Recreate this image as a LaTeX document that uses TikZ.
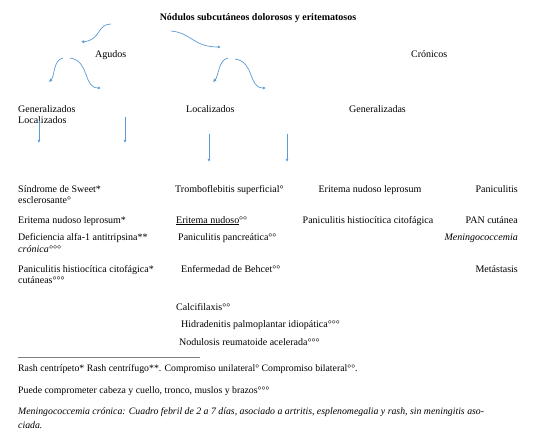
\documentclass[tikz,border=0pt]{standalone}
\usepackage{fontspec}
\setmainfont{Liberation Serif}
\usepackage{xcolor}
\usetikzlibrary{arrows.meta,positioning}
\definecolor{arrowblue}{RGB}{91,155,213}

\begin{document}
\begin{tikzpicture}[
    x=1pt, y=-1pt,
    mytext/.style={anchor=base west, inner sep=0pt, font=\fontsize{10}{11}\selectfont},
    myright/.style={mytext, anchor=base east},
    mymid/.style={mytext, anchor=base},
    mynote/.style={mytext, font=\fontsize{9.8}{11}\selectfont},
    myarrow/.style={-{Latex[length=3.2pt,width=3.2pt]}, draw=arrowblue, line width=0.7pt}
]
\useasboundingbox (0,0) rectangle (534,430);

% title and first level
\node[mymid, font=\fontsize{10}{11}\selectfont\bfseries] (title) at (258,21) {Nódulos subcutáneos dolorosos y eritematosos};
\node[mytext] (agudos) at (95,58) {Agudos};
\node[mytext] (cronicos) at (411,58) {Crónicos};

% second level
\node[mytext] (genA) at (18,113) {Generalizados};
\node[mytext] (locA) at (18,124) {Localizados};
\node[mytext] (locB) at (186,113) {Localizados};
\node[mytext] (genB) at (349,113) {Generalizadas};

% arrow ends
\coordinate (a1s) at (111,24);  \coordinate (a1e) at (81,42);
\coordinate (a2s) at (171,31);  \coordinate (a2e) at (221,47);
\coordinate (a3s) at (63,58);   \coordinate (a3e) at (49,82);
\coordinate (a4s) at (70,58);   \coordinate (a4e) at (101,88);
\coordinate (a5s) at (228,58);  \coordinate (a5e) at (213,82);
\coordinate (a6s) at (235,59);  \coordinate (a6e) at (266,88);
\coordinate (v1s) at (39,121);  \coordinate (v1e) at (39,143);
\coordinate (v2s) at (125,117); \coordinate (v2e) at (125,143);
\coordinate (v3s) at (209,134); \coordinate (v3e) at (209,162);
\coordinate (v4s) at (287,134); \coordinate (v4e) at (287,162);

\draw[myarrow] (a1s) .. controls (97,24) and (101,40) .. (a1e);
\draw[myarrow] (a2s) .. controls (192,33) and (193,47) .. (a2e);
\draw[myarrow] (a3s) .. controls (53,60) and (55,76) .. (a3e);
\draw[myarrow] (a4s) .. controls (90,61) and (83,88) .. (a4e);
\draw[myarrow] (a5s) .. controls (218,60) and (219,76) .. (a5e);
\draw[myarrow] (a6s) .. controls (255,62) and (248,88) .. (a6e);
\draw[myarrow] (v1s) -- (v1e);
\draw[myarrow] (v2s) -- (v2e);
\draw[myarrow] (v3s) -- (v3e);
\draw[myarrow] (v4s) -- (v4e);

% left column
\node[mytext] (sweet) at (18,192) {Síndrome de Sweet*};
\node[mytext] (escl) at (18,203) {esclerosante°};
\node[mytext] (enl) at (18,223) {Eritema nudoso leprosum*};
\node[mytext] (alfa) at (18,240) {Deficiencia alfa-1 antitripsina**};
\node[mytext, font=\fontsize{10}{11}\selectfont\itshape] (cron) at (18,252) {crónica°°°};
\node[mytext] (phc) at (18,272) {Paniculitis histiocítica citofágica*};
\node[mytext] (cut) at (18,283) {cutáneas°°°};

% middle column
\node[mytext] (trombo) at (175,192) {Tromboflebitis superficial°};
\node[mytext] (en) at (176,223) {\underline{Eritema nudoso}°°};
\node[mytext] (pancr) at (178,240) {Paniculitis pancreática°°};
\node[mytext] (behcet) at (181,272) {Enfermedad de Behcet°°};
\node[mytext] (calci) at (176,310) {Calcifilaxis°°};
\node[mytext] (hidra) at (181,327) {Hidradenitis palmoplantar idiopática°°°};
\node[mytext] (nodul) at (179,345) {Nodulosis reumatoide acelerada°°°};

% right columns
\node[mymid] (enl2) at (370,192) {Eritema nudoso leprosum};
\node[mymid] (phc2) at (368,223) {Paniculitis histiocítica citofágica};
\node[myright] (panic) at (518,192) {Paniculitis};
\node[myright] (pan) at (518,223) {PAN cutánea};
\node[myright, font=\fontsize{10}{11}\selectfont\itshape] (menin) at (518,240) {Meningococcemia};
\node[myright] (meta) at (518,272) {Metástasis};

% notes
\coordinate (rulea) at (18,357);
\coordinate (ruleb) at (200,357);
\draw[gray, line width=0.8pt] (rulea) -- (ruleb);
\node[mynote] (nota1) at (18,371) {Rash centrípeto* Rash centrífugo**. Compromiso unilateral° Compromiso bilateral°°.};
\node[mynote] (nota2) at (18,393) {Puede comprometer cabeza y cuello, tronco, muslos y brazos°°°};
\node[mynote, font=\fontsize{9.8}{11}\selectfont\itshape] (nota3) at (18,414) {Meningococcemia crónica: Cuadro febril de 2 a 7 días, asociado a artritis, esplenomegalia y rash, sin meningitis aso-};
\node[mynote, font=\fontsize{9.8}{11}\selectfont\itshape] (nota4) at (18,428) {ciada.};
\end{tikzpicture}
\end{document}
